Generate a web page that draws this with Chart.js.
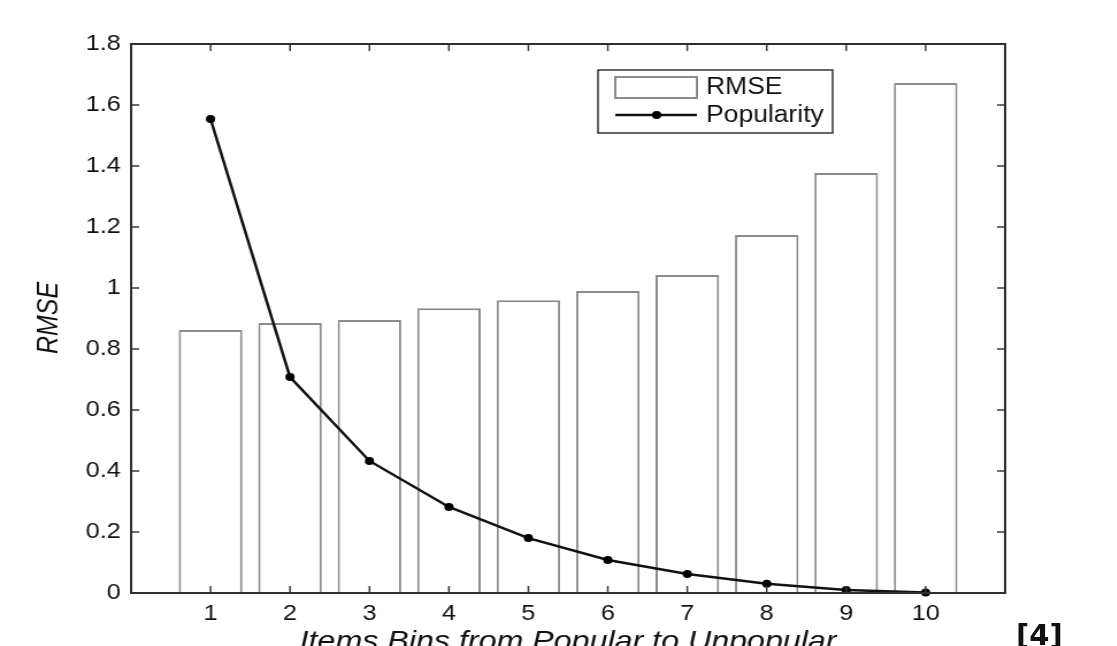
<!DOCTYPE html>
<html>
<head>
<meta charset="utf-8">
<script src="https://cdn.jsdelivr.net/npm/chart.js@4.4.0/dist/chart.umd.min.js"></script>
<style>
  html, body { margin: 0; padding: 0; background: #fff; overflow: hidden; }
  #wrap { position: absolute; left: 0; top: 0; width: 971px; height: 646px; transform: scaleX(1.15); transform-origin: 0 0; }
  #cite { position: absolute; left: 1016px; top: 620px; font: bold 29px/30px "DejaVu Sans", sans-serif; color: #111; }
</style>
</head>
<body>
<div id="wrap"><canvas id="chart" width="971" height="646"></canvas></div>
<div id="cite">[4]</div>
<script>
// data
const bins = [1, 2, 3, 4, 5, 6, 7, 8, 9, 10];
const xTickLabels = ['1', '2', '3', '4', '5', '6', '7', '8', '9', '10'];
const rmse = [0.862, 0.885, 0.895, 0.934, 0.96, 0.99, 1.043, 1.174, 1.377, 1.672];
const popularity = [1.554, 0.708, 0.433, 0.282, 0.18, 0.108, 0.062, 0.03, 0.01, 0.002];
const yTicks = [0, 0.2, 0.4, 0.6, 0.8, 1, 1.2, 1.4, 1.6, 1.8];
const yTickLabels = ['0', '0.2', '0.4', '0.6', '0.8', '1', '1.2', '1.4', '1.6', '1.8'];
const seriesNames = ['RMSE', 'Popularity'];
const xTitle = 'Items Bins from Popular to Unpopular';
const yTitle = 'RMSE';

const FONT = '"Liberation Sans", Arial, sans-serif';

// matlab style box, inward ticks, legend and axis titles
const frame = {
    id: 'frame',
    afterDatasetsDraw(chart) {
        const { ctx, chartArea: a, scales: { x, y } } = chart;
        ctx.save();
        ctx.strokeStyle = '#3a3a3a';
        ctx.lineWidth = 1.5;
        ctx.beginPath();
        bins.forEach(v => {
            const px = x.getPixelForValue(v);
            ctx.moveTo(px, a.bottom); ctx.lineTo(px, a.bottom - 7);
            ctx.moveTo(px, a.top); ctx.lineTo(px, a.top + 7);
        });
        yTicks.forEach(v => {
            const py = y.getPixelForValue(v);
            ctx.moveTo(a.left, py); ctx.lineTo(a.left + 7, py);
            ctx.moveTo(a.right, py); ctx.lineTo(a.right - 7, py);
        });
        ctx.stroke();
        ctx.strokeStyle = '#2e2e2e';
        ctx.lineWidth = 2;
        ctx.strokeRect(a.left, a.top, a.right - a.left, a.bottom - a.top);
        ctx.restore();
    },
    afterDraw(chart) {
        const { ctx, chartArea: a } = chart;
        ctx.save();

        // legend
        ctx.fillStyle = '#fff';
        ctx.fillRect(520, 70, 204, 63);
        ctx.strokeStyle = '#333';
        ctx.lineWidth = 1.5;
        ctx.strokeRect(520, 70, 204, 63);
        ctx.strokeStyle = '#8c8c8c';
        ctx.lineWidth = 2;
        ctx.strokeRect(535, 77, 71, 21);
        ctx.strokeStyle = '#111';
        ctx.lineWidth = 2.5;
        ctx.beginPath();
        ctx.moveTo(535, 115); ctx.lineTo(606, 115);
        ctx.stroke();
        ctx.fillStyle = '#000';
        ctx.beginPath();
        ctx.arc(571, 115, 4, 0, Math.PI * 2);
        ctx.fill();
        ctx.fillStyle = '#111';
        ctx.font = '23px ' + FONT;
        ctx.textBaseline = 'middle';
        ctx.textAlign = 'left';
        ctx.fillText(seriesNames[0], 614, 88);
        ctx.fillText(seriesNames[1], 614, 116);

        // axis titles
        ctx.font = 'italic 28px ' + FONT;
        ctx.textAlign = 'center';
        ctx.textBaseline = 'alphabetic';
        ctx.fillText(xTitle, (a.left + a.right) / 2, 650);

        ctx.translate(43.5, 318);
        ctx.rotate(-Math.PI / 2);
        ctx.font = 'italic 25px ' + FONT;
        ctx.textBaseline = 'middle';
        ctx.fillText(yTitle, 0, 0);
        ctx.restore();
    }
};

new Chart(document.getElementById('chart'), {
    type: 'bar',
    data: {
        datasets: [
            {
                type: 'line',
                label: seriesNames[1],
                data: bins.map((b, i) => ({ x: b, y: popularity[i] })),
                borderColor: '#111',
                borderWidth: 2.5,
                pointRadius: 4,
                pointBackgroundColor: '#000',
                pointBorderColor: '#000',
                pointBorderWidth: 0,
                tension: 0,
                clip: false,
                order: 0
            },
            {
                type: 'bar',
                label: seriesNames[0],
                data: bins.map((b, i) => ({ x: b, y: rmse[i] })),
                backgroundColor: '#fff',
                borderColor: '#8c8c8c',
                borderWidth: 2,
                barPercentage: 0.8,
                categoryPercentage: 1,
                order: 1
            }
        ]
    },
    options: {
        responsive: false,
        devicePixelRatio: 1,
        animation: false,
        layout: { padding: { left: 0, right: 97, top: 44, bottom: 0 } },
        plugins: {
            legend: { display: false },
            tooltip: { enabled: false }
        },
        scales: {
            x: {
                type: 'linear',
                min: 0,
                max: 11,
                offset: false,
                afterFit: s => { s.height = 53; },
                grid: { display: false, drawTicks: false },
                border: { display: false },
                ticks: {
                    stepSize: 1,
                    autoSkip: false,
                    maxRotation: 0,
                    padding: 8,
                    color: '#111',
                    font: { family: FONT, size: 22 },
                    callback: v => (v >= 1 && v <= 10 ? xTickLabels[v - 1] : '')
                }
            },
            y: {
                min: 0,
                max: 1.8,
                afterFit: s => { s.width = 114; },
                grid: { display: false, drawTicks: false },
                border: { display: false },
                ticks: {
                    stepSize: 0.2,
                    padding: 9,
                    color: '#111',
                    font: { family: FONT, size: 22 },
                    callback: (v, i) => yTickLabels[i]
                }
            }
        }
    },
    plugins: [frame]
});
</script>
</body>
</html>
